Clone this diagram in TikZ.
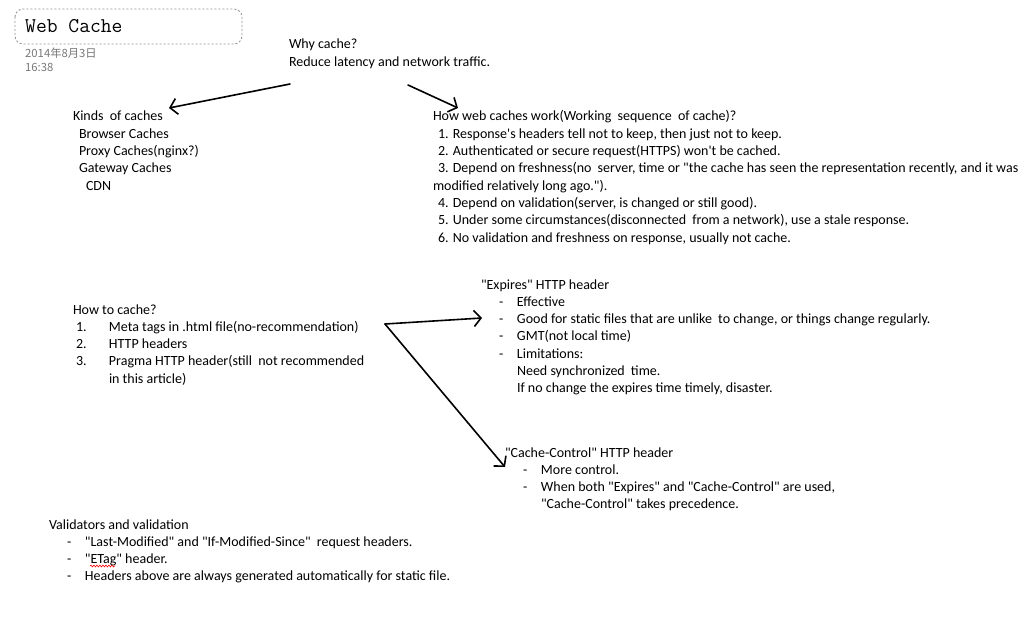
\documentclass[tikz,border=0pt]{standalone}
\usepackage{fontspec}
\setmainfont{Carlito}[Ligatures=TeXOff]
\newfontfamily\cjkfont{Noto Sans CJK SC}
\usetikzlibrary{arrows.meta,decorations.pathmorphing}
\newcommand\bodyfont{\fontsize{14}{17.3}\selectfont}
\newcommand\tline[2][0]{\hbox{\kern#1pt\relax #2}}
\newcommand\blockof[1]{\vtop{\baselineskip=17.3pt\lineskiplimit=-30pt\lineskip=0pt #1}}
\newcommand\dsh[1]{\makebox[18pt][l]{-}#1}
\newcommand\wsp{\hspace{3pt} }
\definecolor{datecol}{RGB}{120,120,120}
\definecolor{boxcol}{RGB}{150,150,150}
\begin{document}
\begin{tikzpicture}[x=1pt,y=-1pt,
  txt/.style={anchor=base west, inner sep=0pt, outer sep=0pt, font=\bodyfont},
  arr/.style={line width=1.6pt, line cap=round, -{Straight Barb[length=7pt,width=16pt,line width=1.6pt]}}]
\useasboundingbox[fill=white] (0,0) rectangle (1031,618);

% title
\draw[boxcol, dash pattern=on 2pt off 2pt, line width=0.9pt, rounded corners=8pt] (15,9) rectangle (242,44);
\node[anchor=base west, inner sep=0pt, font=\ttfamily\fontsize{21}{21}\selectfont] (title) at (25,33) {Web Cache};
\node[anchor=base west, inner sep=0pt, text=datecol, font=\cjkfont\fontsize{11.3}{14}\selectfont] (date) at (25,58) {2014年8月3日};
\node[anchor=base west, inner sep=0pt, text=datecol, font=\cjkfont\fontsize{11.3}{14}\selectfont] (time) at (25,72) {16:38};

% why
\node[txt] (why) at (289,49) {\blockof{%
  \tline{Why cache?}%
  \tline{Reduce latency and network traffic.}}};

% kinds
\node[txt] (kinds) at (73,121) {\blockof{%
  \tline{Kinds\wsp of caches}%
  \tline[6]{Browser Caches}%
  \tline[6]{Proxy Caches(nginx?)}%
  \tline[6]{Gateway Caches}%
  \tline[13]{CDN}}};

% how web caches work
\node[txt] (how) at (433,121) {\blockof{%
  \tline{How web caches work(Working\wsp sequence\wsp of cache)?}%
  \tline[5]{1. Response's headers tell not to keep, then just not to keep.}%
  \tline[5]{2. Authenticated or secure request(HTTPS) won't be cached.}%
  \tline[5]{3. Depend on freshness(no\wsp server, time or "the cache has seen the representation recently, and it was}%
  \tline{modified relatively long ago.").}%
  \tline[5]{4. Depend on validation(server, is changed or still good).}%
  \tline[5]{5. Under some circumstances(disconnected\wsp from a network), use a stale response.}%
  \tline[5]{6. No validation and freshness on response, usually not cache.}}};

% how to cache
\node[txt] (howto) at (73,314) {\blockof{%
  \tline{How to cache?}%
  \tline[3]{\makebox[33pt][l]{1.}Meta tags in .html file(no-recommendation)}%
  \tline[3]{\makebox[33pt][l]{2.}HTTP headers}%
  \tline[3]{\makebox[33pt][l]{3.}Pragma HTTP header(still\wsp not recommended}%
  \tline[36]{in this article)}}};

% expires
\node[txt] (expires) at (481,289) {\blockof{%
  \tline{"Expires" HTTP header}%
  \tline[18]{\dsh{Effective}}%
  \tline[18]{\dsh{Good for static files that are unlike\wsp to change, or things change regularly.}}%
  \tline[18]{\dsh{GMT(not local time)}}%
  \tline[18]{\dsh{Limitations:}}%
  \tline[36]{Need synchronized\wsp time.}%
  \tline[36]{If no change the expires time timely, disaster.}}};

% cache-control
\node[txt] (cc) at (505,457) {\blockof{%
  \tline{"Cache-Control" HTTP header}%
  \tline[18]{\dsh{More control.}}%
  \tline[18]{\dsh{When both "Expires" and "Cache-Control" are used,}}%
  \tline[36]{"Cache-Control" takes precedence.}}};

% validators
\node[txt] (valid) at (49,529) {\blockof{%
  \tline{Validators and validation}%
  \tline[18]{\dsh{"Last-Modified" and "If-Modified-Since"\wsp request headers.}}%
  \tline[18]{\dsh{"ETag" header.}}%
  \tline[18]{\dsh{Headers above are always generated automatically for static file.}}}};
\draw[red, line width=0.6pt, decorate, decoration={snake, amplitude=0.9pt, segment length=3pt}] (90,566) -- (115,566);

% arrow end points
\coordinate (a1s) at (290,84);
\coordinate (a1e) at (169,108);
\coordinate (a2s) at (408,85);
\coordinate (a2e) at (458,108);
\coordinate (a3s) at (385,324);
\coordinate (a3e) at (482,318);
\coordinate (a4e) at (505,467);

\draw[arr] (a1s) -- (a1e);
\draw[arr] (a2s) -- (a2e);
\draw[arr] (a3s) -- (a3e);
\draw[arr] (a3s) -- (a4e);
\end{tikzpicture}
\end{document}
